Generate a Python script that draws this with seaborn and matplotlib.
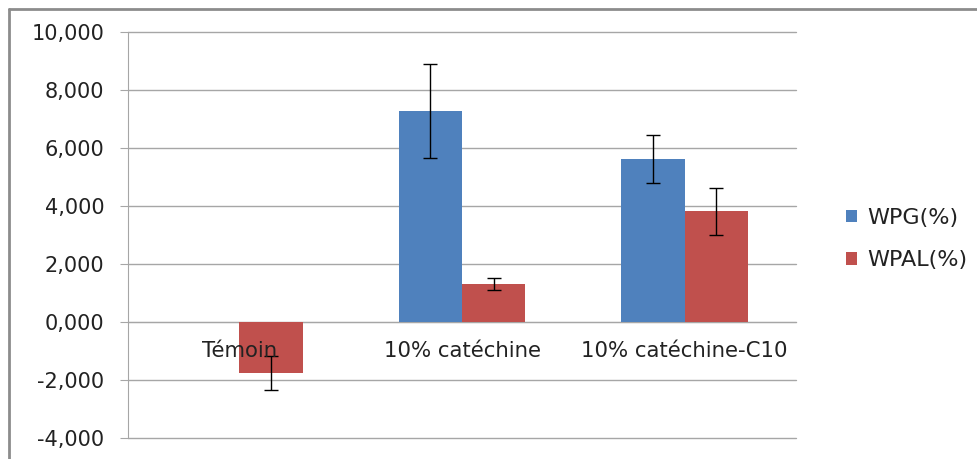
import matplotlib
matplotlib.use("Agg")
import matplotlib.pyplot as plt
import matplotlib.patches as mpatches
import matplotlib.lines as mlines
import matplotlib.ticker as mticker
import matplotlib.transforms as mtrans
import seaborn as sns
import pandas as pd

categories = ["Témoin", "10% catéchine", "10% catéchine-C10"]
series = ["WPG(%)", "WPAL(%)"]
wpg = [0.0, 7.28, 5.62]
wpg_err = [0.0, 1.62, 0.83]
wpal = [-1.76, 1.31, 3.82]
wpal_err = [0.58, 0.21, 0.81]
colors = ["#4F81BD", "#C0504D"]
yticks = [-4, -2, 0, 2, 4, 6, 8, 10]

df = pd.DataFrame({
    "cat": categories * 2,
    "serie": [series[0]] * 3 + [series[1]] * 3,
    "val": wpg + wpal,
})
errs = [wpg_err, wpal_err]

sns.set_style("white")
plt.rcParams["font.family"] = ["DejaVu Sans"]
txt_color = "#222222"

fig = plt.figure(figsize=(9.77, 4.59), dpi=100)
ax = fig.add_axes([128/977, 21/459, (796-128)/977, (438-32)/459])

sns.barplot(data=df, x="cat", y="val", hue="serie", palette=colors,
            errorbar=None, width=0.57, ax=ax, saturation=1, legend=False,
            edgecolor="none", linewidth=0, zorder=3)

for cont, e in zip(ax.containers, errs):
    for p, er in zip(cont, e):
        if er > 0:
            x = p.get_x() + p.get_width() / 2
            ax.errorbar(x, p.get_height(), yerr=er, fmt="none", ecolor="#000000",
                        elinewidth=1.0, capsize=5, capthick=1.0, zorder=4)

ax.set_ylim(-4, 10)
ax.set_yticks(yticks)
ax.yaxis.set_major_formatter(mticker.FuncFormatter(
    lambda v, p: f"{v:.3f}".replace(".", ",")))
ax.set_xlim(-0.5, 2.5)
ax.grid(axis="y", color="#A6A6A6", linewidth=1.0, zorder=0)
ax.set_axisbelow(True)
ax.set_xlabel("")
ax.set_ylabel("")
for gl in ax.get_ygridlines():
    gl.set_clip_on(False)

for s in ["top", "right"]:
    ax.spines[s].set_visible(False)
ax.spines["left"].set_color("#A6A6A6")
ax.spines["bottom"].set_color("#A6A6A6")
ax.spines["bottom"].set_position(("data", 0))

ax.set_xticks([-0.5, 0.5, 1.5, 2.5])
ax.set_xticklabels([])
ax.tick_params(axis="x", length=6, color="#A6A6A6", direction="out")
ax.tick_params(axis="y", length=6, color="#A6A6A6", labelsize=15,
               labelcolor=txt_color, pad=11, left=True)

trans = mtrans.blended_transform_factory(ax.transData, fig.transFigure)
for i, c in enumerate(categories):
    ax.text(i, 1 - 351/459, c, transform=trans, ha="center", va="center",
            fontsize=15.3, color=txt_color, zorder=10)

handles = [mpatches.Patch(facecolor=c, edgecolor="none", label=s) for c, s in zip(colors, series)]
fig.legend(handles=handles, loc="center left", bbox_to_anchor=(826/977, 1 - 239/459),
           frameon=False, fontsize=16, handlelength=0.5, handleheight=0.5,
           handletextpad=0.45, labelspacing=1.0, labelcolor=txt_color)

bc = "#8c8c8c"
fig.add_artist(mlines.Line2D([9/977, 9/977], [0, 1 - 9/459], transform=fig.transFigure,
                             color=bc, linewidth=2))
fig.add_artist(mlines.Line2D([9/977, 1], [1 - 9/459, 1 - 9/459], transform=fig.transFigure,
                             color=bc, linewidth=2))

fig.savefig("out.png", dpi=100)
